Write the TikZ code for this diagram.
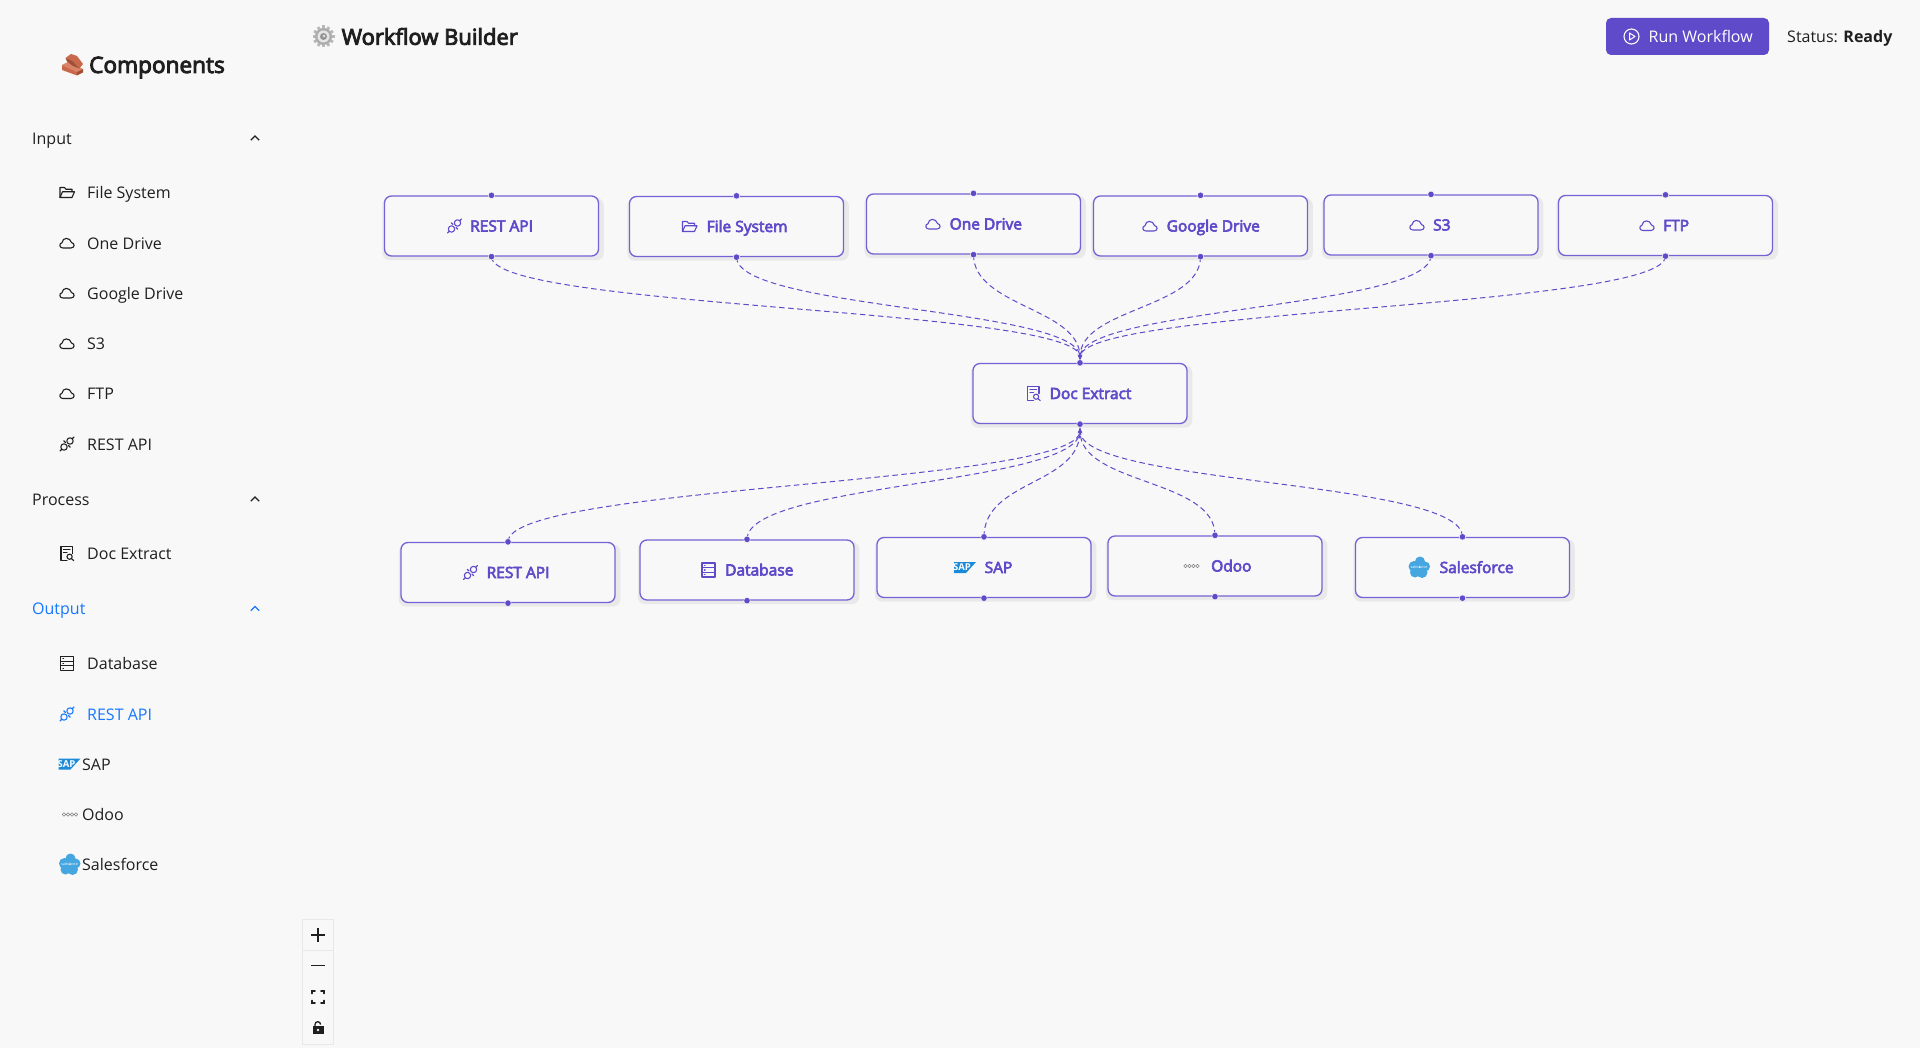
\documentclass[tikz,border=0pt]{standalone}
\usepackage{fontspec}
\setmainfont{Open Sans}
\newfontfamily\semifont{Open Sans}[FakeBold=4]
\usetikzlibrary{arrows.meta}
\usetikzlibrary{shadows}

\definecolor{pagebg}{HTML}{F8F8F8}
\definecolor{flowpurple}{HTML}{5F4BC9}
\definecolor{boxborder}{HTML}{7562D6}
\definecolor{boxshade}{HTML}{E9E9E9}
\definecolor{inkdark}{HTML}{1F1F1F}
\definecolor{linkblue}{HTML}{1677FF}
\definecolor{sapblue}{HTML}{1B8AD8}
\definecolor{salesblue}{HTML}{45A6E0}
\definecolor{panelline}{HTML}{E8E8E8}
\definecolor{brickface}{HTML}{C9694B}
\definecolor{bricklight}{HTML}{D98468}
\definecolor{brickdark}{HTML}{A04E35}

\tikzset{
    flowbox/.style = {draw = boxborder, line width = 1.3pt, fill = pagebg, rounded corners = 7pt,
        minimum width = 214pt, minimum height = 60pt, inner sep = 0pt,
        general shadow = {fill = boxshade, shadow xshift = 1.5pt, shadow yshift = -3pt, shadow scale = 1.035}},
    handle/.style = {circle, fill = flowpurple, draw = pagebg, line width = 0.5pt, minimum size = 6.5pt, inner sep = 0pt},
    flowlabel/.style = {anchor = west, inner sep = 0pt, text = flowpurple, text height = 12pt, text depth = 1pt,
        font = \fontsize{15.5}{17}\selectfont\semifont},
    sidelabel/.style = {anchor = west, inner sep = 0pt, text = inkdark, text height = 13pt, text depth = 0.5pt,
        font = \fontsize{16}{18}\selectfont},
    heading/.style = {anchor = west, inner sep = 0pt, text = inkdark, font = \fontsize{22}{26}\selectfont\semifont},
    flowedge/.style = {flowpurple, line width = 1pt, dash pattern = on 5.5pt off 3.5pt, -{Stealth[length = 5pt, width = 4pt]}},
    icon/.style = {line width = 1.1pt, line join = round, line cap = round},
    zoomicon/.style = {line width = 1.6pt, inkdark}
}

% icons, drawn in a 16 x 16 box round the origin
\newcommand{\iconcloud}{
    \draw [icon] (-4,5) .. controls (-7.8,5) and (-8.2,0.5) .. (-5,-0.3) .. controls (-4.5,-6) and (3,-6) .. (4.5,-0.5)
        .. controls (8.2,0.3) and (7.8,5) .. (4,5) -- cycle;
}
\newcommand{\iconfolder}{
    \draw [icon] (-7,5) -- (-7,-5) -- (-2.5,-5) -- (-1,-3.2) -- (5,-3.2) -- (5,-0.7);
    \draw [icon] (-7,5) -- (-4.5,-0.7) -- (7.5,-0.7) -- (5,5) -- cycle;
}
\newcommand{\iconapi}{
    \draw [icon] (-3,3) circle (3.2);
    \draw [icon] (3,-3) circle (3.2);
    \draw [icon] (-5.3,5.3) -- (-7,7);
    \draw [icon] (5.3,-5.3) -- (7,-7);
    \draw [icon] (-1.5,-1.5) -- (-3.2,-3.2);
    \draw [icon] (1.5,1.5) -- (3.2,3.2);
}
\newcommand{\icondoc}{
    \draw [icon] (0,7) -- (-6,7) -- (-6,-7) -- (5.5,-7) -- (5.5,0);
    \draw [icon] (-3.5,-4) -- (3,-4);
    \draw [icon] (-3.5,-1) -- (0,-1);
    \draw [icon] (2.6,3.2) circle (2.6);
    \draw [icon] (4.5,5.1) -- (6.8,7.2);
}
\newcommand{\icondb}{
    \draw [icon] (-6.5,-7) rectangle (6.5,7);
    \draw [icon] (-6.5,-2.3) -- (6.5,-2.3);
    \draw [icon] (-6.5,2.3) -- (6.5,2.3);
    \draw [icon] (-4,-4.7) -- (-3.4,-4.7);
    \draw [icon] (-4,0) -- (-3.4,0);
    \draw [icon] (-4,4.7) -- (-3.4,4.7);
}
\newcommand{\iconsap}{
    \fill [sapblue] (-11,-5.5) -- (11,-5.5) -- (1,5.5) -- (-11,5.5) -- cycle;
    \node [inner sep = 0pt, text = white, font = \fontsize{9.5}{10}\selectfont\bfseries] at (-3,0) {SAP};
}
\newcommand{\iconodoo}{
    \foreach \odx in {-6,-2,2,6}
        \draw [gray, line width = 0.6pt] (\odx,0) circle (1.7);
}
\newcommand{\iconsales}{
    \fill [salesblue] (-5,-1) circle (5.5);
    \fill [salesblue] (1,-6) circle (5);
    \fill [salesblue] (6,-1) circle (5);
    \fill [salesblue] (-4,5) circle (5);
    \fill [salesblue] (3,5) circle (5.5);
    \node [inner sep = 0pt, text = white, font = \fontsize{3.6}{4}\selectfont] at (0,0) {salesforce};
}

\begin{document}
\begin{tikzpicture} [x = 1pt, y = -1pt]

    \useasboundingbox (0,0) rectangle (1920,1048);
    \fill [pagebg] (0,0) rectangle (1920,1048);

    % sidebar title, brick emoji
    \fill [bricklight] (62,65) -- (68,62) -- (83,69) -- (77,72) -- cycle;
    \fill [brickface] (62,65) -- (77,72) -- (77,75.5) -- (62,70) -- cycle;
    \fill [brickdark] (77,72) -- (83,69) -- (83,72.5) -- (77,75.5) -- cycle;
    \fill [brickface] (65.5,58) -- (71,54) -- (77,56) -- (83,64) -- (79.5,68.5) -- (72,60.5) -- cycle;
    \fill [brickdark] (65.5,58) -- (72,60.5) -- (79.5,68.5) -- (73,66) -- (67,61.5) -- cycle;
    \node [heading, font = \fontsize{22.6}{26}\selectfont\semifont] (comptitle) at (89,67.5) {Components};

    % page title, gear emoji
    \begin{scope} [shift = {(323.5,36.5)}]
        \foreach \tooth in {0,30,...,330}
            \fill [rotate = \tooth, gray!55] (-1.4,-11) rectangle (1.4,-7);
        \fill [gray!65] (0,0) circle (8.5);
        \fill [gray!20] (0,0) circle (6);
        \fill [gray!85] (0,0) circle (3.5);
        \fill [gray!20] (0.5,-0.5) circle (1.3);
    \end{scope}
    \node [heading] (flowtitle) at (341.5,36.5) {Workflow Builder};

    % run button and status
    \node [fill = flowpurple, rounded corners = 5pt, minimum width = 163pt, minimum height = 37pt, inner sep = 0pt] (runbtn) at (1687.5,36.5) {};
    \draw [white, line width = 1.1pt] (1631.5,36.5) circle (7.5);
    \draw [white, line width = 1pt, line join = round] (1629.5,33) -- (1635,36.5) -- (1629.5,40) -- cycle;
    \node [sidelabel, text = white] (runlabel) at (1648.5,36.5) {Run Workflow};
    \node [sidelabel] (statuslabel) at (1787,36.5) {Status: \textbf{Ready}};

    % sidebar sections
    \foreach \name/\yy/\lab in {secinput/138/Input, secprocess/499/Process}{
        \node [sidelabel] (\name) at (32,\yy) {\lab};
        \draw [inkdark, line width = 1.3pt] (250.8,\yy+2.2) -- (255,\yy-2) -- (259.2,\yy+2.2);
    }
    \node [sidelabel, text = linkblue] (secoutput) at (32,608.5) {Output};
    \draw [linkblue, line width = 1.3pt] (250.8,610.7) -- (255,606.5) -- (259.2,610.7);

    % sidebar entries
    \foreach \name/\yy/\lab/\icon in {
        sidefile/192.5/File System/\iconfolder,
        sideone/243/One Drive/\iconcloud,
        sidegoogle/293/Google Drive/\iconcloud,
        sidesthree/343.5/S3/\iconcloud,
        sideftp/393.5/FTP/\iconcloud,
        siderest/444/REST API/\iconapi,
        sidedoc/553.5/Doc Extract/\icondoc,
        sidedb/663.5/Database/\icondb}{
        \begin{scope} [shift = {(67,\yy)}, inkdark]
            \icon
        \end{scope}
        \node [sidelabel] (\name) at (87,\yy) {\lab};
    }
    \begin{scope} [shift = {(67,714)}, linkblue]
        \iconapi
    \end{scope}
    \node [sidelabel, text = linkblue] (sideapi) at (87,714) {REST API};

    \begin{scope} [shift = {(69.5,764)}]
        \iconsap
    \end{scope}
    \node [sidelabel] (sidesap) at (82,764) {SAP};
    \begin{scope} [shift = {(70,814.5)}]
        \iconodoo
    \end{scope}
    \node [sidelabel] (sideodoo) at (82,814.5) {Odoo};
    \begin{scope} [shift = {(69.5,864.5)}]
        \iconsales
    \end{scope}
    \node [sidelabel] (sidesales) at (82,864.5) {Salesforce};

    % flow nodes
    \foreach \name/\cx/\cy/\icon/\ix/\tx/\lab in {
        srcrest/491.5/226/\iconapi/454.5/470/REST API,
        srcfile/736.5/226.5/\iconfolder/689.5/706.5/File System,
        srcone/973.5/224/\iconcloud/933/949.5/One Drive,
        srcgoogle/1200.5/226/\iconcloud/1150/1166.5/Google Drive,
        srcsthree/1431/225/\iconcloud/1417/1433/S3,
        srcftp/1665.5/225.5/\iconcloud/1647/1663/FTP,
        docextract/1080/393.5/\icondoc/1033.5/1049.5/Doc Extract,
        dstrest/508/572.5/\iconapi/470.5/486.5/REST API,
        dstdb/747/570/\icondb/708.5/725/Database,
        dstsap/984/567.5/\iconsap/965/984.5/SAP,
        dstodoo/1215/566/\iconodoo/1191.5/1211/Odoo,
        dstsales/1462.5/567.5/\iconsales/1419/1439.5/Salesforce}{
        \node [flowbox] (\name) at (\cx,\cy) {};
        \begin{scope} [shift = {(\ix,\cy)}, flowpurple]
            \icon
        \end{scope}
        \node [flowlabel] (\name lab) at (\tx,\cy) {\lab};
    }

    % connectors, all of them meet at the doc extract handles
    \coordinate (docin) at (1080,360);
    \coordinate (docout) at (1080,428);
    \foreach \name in {srcrest,srcfile,srcone,srcgoogle,srcsthree,srcftp}
        \draw [flowedge] (\name.south) .. controls +(0,52) and +(0,-52) .. (docin);
    \foreach \name in {dstrest,dstdb,dstsap,dstodoo,dstsales}
        \draw [flowedge] (\name.north) .. controls +(0,-57) and +(0,57) .. (docout);

    % handles
    \foreach \name in {srcrest,srcfile,srcone,srcgoogle,srcsthree,srcftp,docextract,dstrest,dstdb,dstsap,dstodoo,dstsales}{
        \node [handle] (\name top) at (\name.north) {};
        \node [handle] (\name bot) at (\name.south) {};
    }

    % zoom panel
    \draw [panelline, line width = 1pt, fill = pagebg] (302.5,919.5) rectangle (333.5,1044.5);
    \draw [panelline, line width = 1pt] (302.5,950) -- (333.5,950);
    \draw [zoomicon] (318,928) -- (318,942);
    \draw [zoomicon] (311,935) -- (325,935);
    \draw [zoomicon] (311,965.5) -- (325,965.5);
    \draw [zoomicon, line cap = round] (312,993.5) -- (312,991) -- (315,991);
    \draw [zoomicon, line cap = round] (321,991) -- (324,991) -- (324,993.5);
    \draw [zoomicon, line cap = round] (312,1000.5) -- (312,1003) -- (315,1003);
    \draw [zoomicon, line cap = round] (321,1003) -- (324,1003) -- (324,1000.5);
    \fill [inkdark] (312.5,1026) rectangle (323.5,1034);
    \draw [inkdark, line width = 1.3pt] (315,1026) -- (315,1024.5) arc (180:360:2.8);
    \fill [pagebg] (318,1030) circle (1.3);

\end{tikzpicture}
\end{document}
